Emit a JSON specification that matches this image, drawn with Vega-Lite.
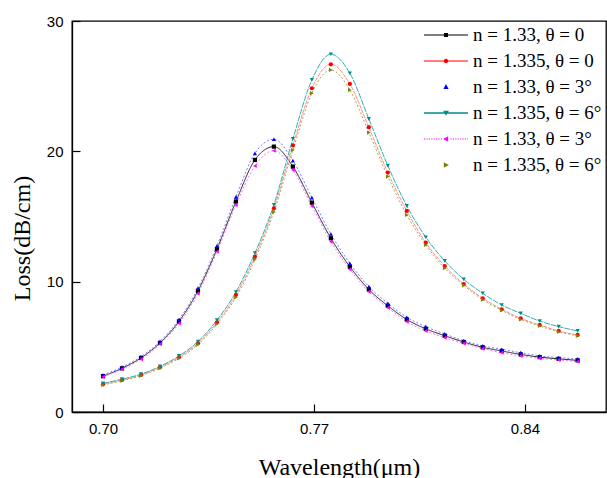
{
  "$schema": "https://vega.github.io/schema/vega-lite/v6.json",
  "width": 534,
  "height": 391,
  "autosize": "none",
  "padding": {"left": 72, "top": 21, "right": 1, "bottom": 66},
  "background": "white",
  "config": {
    "view": {"stroke": "black", "strokeWidth": 1.3},
    "axis": {
      "domainColor": "black", "domainWidth": 1.3, "tickColor": "black", "tickWidth": 1.2,
      "grid": false, "labelFont": "Liberation Sans", "labelFontSize": 15, "labelColor": "black",
      "titleFont": "Liberation Serif", "titleFontSize": 24, "titleFontWeight": "normal", "titleColor": "black"
    }
  },
  "data": {"values": [
    {"x": 0.7000, "s1": 2.75, "s2": 2.12, "s3": 2.85, "s4": 2.2, "s5": 2.7, "s6": 2.08},
    {"x": 0.7063, "s1": 3.35, "s2": 2.45, "s3": 3.45, "s4": 2.52, "s5": 3.28, "s6": 2.4},
    {"x": 0.7126, "s1": 4.15, "s2": 2.84, "s3": 4.25, "s4": 2.9, "s5": 4.05, "s6": 2.78},
    {"x": 0.7189, "s1": 5.3, "s2": 3.43, "s3": 5.42, "s4": 3.5, "s5": 5.2, "s6": 3.36},
    {"x": 0.7252, "s1": 6.95, "s2": 4.2, "s3": 7.1, "s4": 4.3, "s5": 6.8, "s6": 4.12},
    {"x": 0.7315, "s1": 9.3, "s2": 5.27, "s3": 9.5, "s4": 5.4, "s5": 9.1, "s6": 5.17},
    {"x": 0.7378, "s1": 12.5, "s2": 6.88, "s3": 12.75, "s4": 7.05, "s5": 12.3, "s6": 6.75},
    {"x": 0.7441, "s1": 16.15, "s2": 8.98, "s3": 16.5, "s4": 9.2, "s5": 15.89, "s6": 8.8},
    {"x": 0.7504, "s1": 19.34, "s2": 11.92, "s3": 19.85, "s4": 12.2, "s5": 18.88, "s6": 11.7},
    {"x": 0.7567, "s1": 20.36, "s2": 15.63, "s3": 20.93, "s4": 15.9, "s5": 20.05, "s6": 15.35},
    {"x": 0.7630, "s1": 18.83, "s2": 20.45, "s3": 19.29, "s4": 20.95, "s5": 18.57, "s6": 20.1},
    {"x": 0.7693, "s1": 16.06, "s2": 24.84, "s3": 16.45, "s4": 25.48, "s5": 15.81, "s6": 24.46},
    {"x": 0.7756, "s1": 13.33, "s2": 26.68, "s3": 13.66, "s4": 27.45, "s5": 13.07, "s6": 26.25},
    {"x": 0.7819, "s1": 11.15, "s2": 25.17, "s3": 11.41, "s4": 25.99, "s5": 10.95, "s6": 24.71},
    {"x": 0.7882, "s1": 9.4, "s2": 21.85, "s3": 9.62, "s4": 22.49, "s5": 9.23, "s6": 21.44},
    {"x": 0.7945, "s1": 8.15, "s2": 18.37, "s3": 8.34, "s4": 18.9, "s5": 8.0, "s6": 18.06},
    {"x": 0.8008, "s1": 7.1, "s2": 15.43, "s3": 7.27, "s4": 15.81, "s5": 6.93, "s6": 15.12},
    {"x": 0.8071, "s1": 6.38, "s2": 12.99, "s3": 6.55, "s4": 13.41, "s5": 6.22, "s6": 12.82},
    {"x": 0.8134, "s1": 5.85, "s2": 11.2, "s3": 5.99, "s4": 11.59, "s5": 5.7, "s6": 11.03},
    {"x": 0.8197, "s1": 5.37, "s2": 9.82, "s3": 5.47, "s4": 10.18, "s5": 5.27, "s6": 9.72},
    {"x": 0.8260, "s1": 4.96, "s2": 8.72, "s3": 5.07, "s4": 9.11, "s5": 4.86, "s6": 8.62},
    {"x": 0.8323, "s1": 4.68, "s2": 7.88, "s3": 4.81, "s4": 8.21, "s5": 4.55, "s6": 7.8},
    {"x": 0.8386, "s1": 4.42, "s2": 7.19, "s3": 4.55, "s4": 7.57, "s5": 4.3, "s6": 7.1},
    {"x": 0.8449, "s1": 4.21, "s2": 6.68, "s3": 4.3, "s4": 6.98, "s5": 4.12, "s6": 6.6},
    {"x": 0.8512, "s1": 4.08, "s2": 6.22, "s3": 4.17, "s4": 6.55, "s5": 3.99, "s6": 6.15},
    {"x": 0.8575, "s1": 3.96, "s2": 5.91, "s3": 4.07, "s4": 6.22, "s5": 3.86, "s6": 5.85}
  ]},
  "transform": [{"fold": ["s1", "s2", "s3", "s4", "s5", "s6"], "as": ["s", "y"]}],
  "encoding": {
    "x": {"field": "x", "type": "quantitative",
      "scale": {"domain": [0.6897, 0.8669], "nice": false, "zero": false},
      "axis": {"values": [0.70, 0.77, 0.84], "format": ".2f", "title": "Wavelength(μm)",
        "tickSize": -8, "labelPadding": 17, "titlePadding": 19}},
    "y": {"field": "y", "type": "quantitative",
      "scale": {"domain": [0, 30], "nice": false},
      "axis": {"values": [0, 10, 20, 30], "title": "Loss(dB/cm)",
        "tickSize": -8, "labelPadding": 17, "titlePadding": 12, "titleY": 217}}
  },
  "layer": [
    {
      "mark": {"type": "line", "interpolate": "monotone", "strokeWidth": 1},
      "encoding": {
        "stroke": {"field": "s", "type": "nominal", "legend": null,
          "scale": {"domain": ["s1", "s2", "s3", "s4", "s5", "s6"],
            "range": ["#222222", "#ff8a8a", "#7a7aff", "#2fb0b0", "#ff70ff", "#a8a850"]}},
        "strokeDash": {"field": "s", "type": "nominal", "legend": null,
          "scale": {"domain": ["s1", "s2", "s3", "s4", "s5", "s6"],
            "range": [[1, 0], [4, 1], [2, 2], [6, 1], [2, 2], [2, 2]]}}
      }
    },
    {
      "mark": {"type": "point", "filled": true, "size": 18, "opacity": 1},
      "encoding": {
        "color": {"field": "s", "type": "nominal", "legend": null,
          "scale": {"domain": ["s1", "s2", "s3", "s4", "s5", "s6"],
            "range": ["#000000", "#ff0000", "#0000ff", "#008b8b", "#ff00ff", "#808000"]}},
        "shape": {"field": "s", "type": "nominal", "legend": null,
          "scale": {"domain": ["s1", "s2", "s3", "s4", "s5", "s6"],
            "range": ["square", "circle", "triangle-up", "triangle-down", "triangle-left", "triangle-right"]}}
      }
    },
    {
      "mark": {"type": "point", "filled": true, "size": 10, "opacity": 0},
      "encoding": {
        "color": {"field": "s", "type": "nominal",
          "scale": {"domain": ["s1", "s2", "s3", "s4", "s5", "s6"],
            "range": ["#000000", "#ff0000", "#0000ff", "#008b8b", "#ff00ff", "#808000"]},
          "legend": {"orient": "none", "legendX": 362, "legendY": 2, "title": null,
            "symbolSize": 576, "symbolOpacity": 1, "symbolStrokeWidth": 0,
            "labelFont": "Liberation Serif", "labelFontSize": 19, "labelColor": "black",
            "labelOffset": 15, "rowPadding": 4, "padding": 0,
            "labelExpr": "{'s1': 'n = 1.33, θ = 0', 's2': 'n = 1.335, θ = 0', 's3': 'n = 1.33, θ = 3°', 's4': 'n = 1.335, θ = 6°', 's5': 'n = 1.33, θ = 3°', 's6': 'n = 1.335, θ = 6°'}[datum.value]"}},
        "shape": {"field": "s", "type": "nominal",
          "legend": {"orient": "none", "legendX": 362, "legendY": 2, "title": null,
            "symbolSize": 576, "symbolOpacity": 1, "symbolStrokeWidth": 0,
            "labelFont": "Liberation Serif", "labelFontSize": 19, "labelColor": "black",
            "labelOffset": 15, "rowPadding": 4, "padding": 0,
            "labelExpr": "{'s1': 'n = 1.33, θ = 0', 's2': 'n = 1.335, θ = 0', 's3': 'n = 1.33, θ = 3°', 's4': 'n = 1.335, θ = 6°', 's5': 'n = 1.33, θ = 3°', 's6': 'n = 1.335, θ = 6°'}[datum.value]"},
          "scale": {"domain": ["s1", "s2", "s3", "s4", "s5", "s6"],
            "range": [
              "M-1.83,-0.045H1.83V0.045H-1.83Z M-0.17,-0.17H0.17V0.17H-0.17Z",
              "M-1.83,-0.035H1.83V0.035H-1.83Z M0.19,0A0.19,0.19 0 1,1 -0.19,0A0.19,0.19 0 1,1 0.19,0Z",
              "M0,-0.24L0.22,0.17H-0.22Z",
              "M-1.83,-0.055H1.83V0.055H-1.83Z M-0.24,-0.18H0.24L0,0.22Z",
              "M-1.83,-0.04h0.1v0.08h-0.1Z M-1.63,-0.04h0.1v0.08h-0.1Z M-1.43,-0.04h0.1v0.08h-0.1Z M-1.23,-0.04h0.1v0.08h-0.1Z M-1.03,-0.04h0.1v0.08h-0.1Z M-0.83,-0.04h0.1v0.08h-0.1Z M-0.63,-0.04h0.1v0.08h-0.1Z M-0.43,-0.04h0.1v0.08h-0.1Z M0.37,-0.04h0.1v0.08h-0.1Z M0.57,-0.04h0.1v0.08h-0.1Z M0.77,-0.04h0.1v0.08h-0.1Z M0.97,-0.04h0.1v0.08h-0.1Z M1.17,-0.04h0.1v0.08h-0.1Z M1.37,-0.04h0.1v0.08h-0.1Z M1.57,-0.04h0.1v0.08h-0.1Z M1.77,-0.04h0.06v0.08h-0.06Z M-0.24,0L0.18,-0.22V0.22Z",
              "M0.24,0L-0.18,-0.22V0.22Z"
            ]}}
      }
    }
  ],
  "resolve": {"scale": {"shape": "independent", "color": "independent"}}
}
